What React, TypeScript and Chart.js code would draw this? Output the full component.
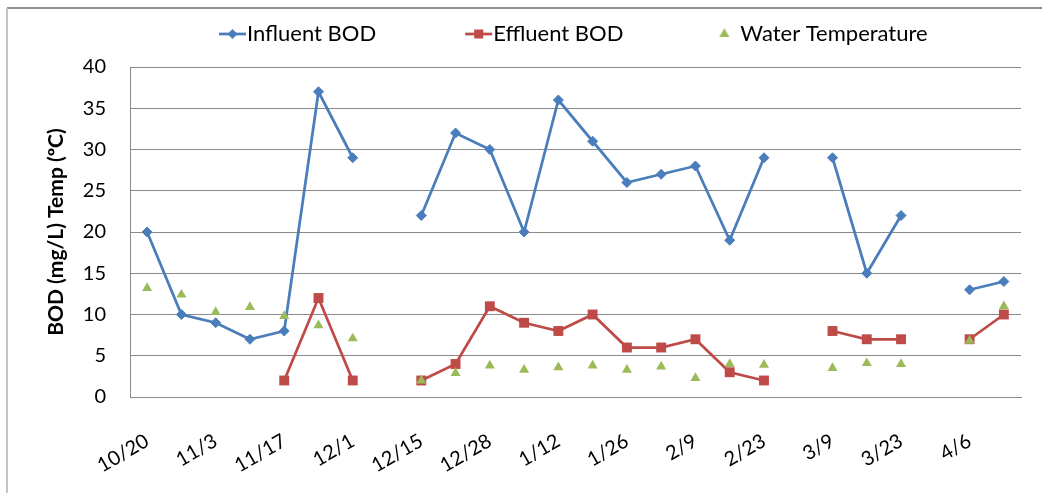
import React, { useEffect, useRef } from 'react';
import { Chart, registerables } from 'chart.js';

Chart.register(...registerables);

// ---- data ----
const categories = [
  '10/20', '10/27', '11/3', '11/10', '11/17', '11/24', '12/1', '12/8', '12/15', '12/22',
  '12/28', '1/5', '1/12', '1/19', '1/26', '2/2', '2/9', '2/16', '2/23', '3/2',
  '3/9', '3/16', '3/23', '3/30', '4/6', '4/13',
];
const influentBOD = [20, 10, 9, 7, 8, 37, 29, null, 22, 32, 30, 20, 36, 31, 26, 27, 28, 19, 29, null, 29, 15, 22, null, 13, 14];
const effluentBOD = [null, null, null, null, 2, 12, 2, null, 2, 4, 11, 9, 8, 10, 6, 6, 7, 3, 2, null, 8, 7, 7, null, 7, 10];
const waterTemperature = [13.2, 12.4, 10.3, 10.9, 9.8, 8.7, 7.1, null, 2.0, 2.9, 3.8, 3.3, 3.6, 3.8, 3.3, 3.7, 2.3, 4.0, 3.9, null, 3.5, 4.1, 4.0, null, 6.8, 11.0];
const seriesNames = ['Influent BOD', 'Effluent BOD', 'Water Temperature'];
const yAxisTitle = 'BOD (mg/L) Temp (ºC)';
const yMin = 0;
const yMax = 40;
const yStep = 5;

const BLUE = '#4A7EBB';
const RED = '#BE4B48';
const GREEN = '#9BBB59';
const GRID = '#8a8a8a';
const FONT = 'Lato';

function makeIcon(kind: 'diamond' | 'square' | 'triangle', color: string) {
  const c = document.createElement('canvas');
  c.width = 108;
  c.height = 16;
  const ctx = c.getContext('2d')!;
  const cy = 8;
  ctx.fillStyle = color;
  ctx.strokeStyle = color;
  if (kind === 'triangle') {
    const cx = 92;
    const r = 5.8;
    ctx.beginPath();
    ctx.moveTo(cx, cy - r);
    ctx.lineTo(cx + r * Math.sin(Math.PI / 3), cy + r / 2);
    ctx.lineTo(cx - r * Math.sin(Math.PI / 3), cy + r / 2);
    ctx.closePath();
    ctx.fill();
  } else {
    ctx.lineWidth = 2.75;
    ctx.beginPath();
    ctx.moveTo(80, cy);
    ctx.lineTo(107, cy);
    ctx.stroke();
    const mx = 93.5;
    ctx.beginPath();
    if (kind === 'diamond') {
      const r = 5;
      ctx.moveTo(mx - r, cy);
      ctx.lineTo(mx, cy - r);
      ctx.lineTo(mx + r, cy);
      ctx.lineTo(mx, cy + r);
      ctx.closePath();
    } else {
      ctx.rect(mx - 4.5, cy - 4.5, 9, 9);
    }
    ctx.fill();
  }
  return c;
}

export default function App() {
  const canvasRef = useRef<HTMLCanvasElement | null>(null);

  useEffect(() => {
    if (!canvasRef.current) return;
    Chart.defaults.font.family = FONT;
    const icons = [
      makeIcon('diamond', BLUE),
      makeIcon('square', RED),
      makeIcon('triangle', GREEN),
    ];
    const colors = [BLUE, RED, GREEN];

    const chart = new Chart(canvasRef.current, {
      type: 'line',
      data: {
        labels: categories,
        datasets: [
          {
            label: seriesNames[0],
            data: influentBOD,
            borderColor: BLUE,
            backgroundColor: BLUE,
            borderWidth: 2.75,
            pointStyle: 'rectRot',
            pointRadius: 5,
            pointBorderWidth: 1,
            pointBackgroundColor: BLUE,
            pointBorderColor: BLUE,
            spanGaps: false,
            tension: 0,
            order: 3,
          },
          {
            label: seriesNames[1],
            data: effluentBOD,
            borderColor: RED,
            backgroundColor: RED,
            borderWidth: 2.75,
            pointStyle: 'rect',
            pointRadius: 7,
            pointBorderWidth: 0,
            pointBackgroundColor: RED,
            pointBorderColor: RED,
            spanGaps: false,
            tension: 0,
            order: 2,
          },
          {
            label: seriesNames[2],
            data: waterTemperature,
            borderColor: GREEN,
            backgroundColor: GREEN,
            showLine: false,
            pointStyle: 'triangle',
            pointRadius: 5.8,
            pointBorderWidth: 0,
            pointBackgroundColor: GREEN,
            pointBorderColor: GREEN,
            order: 1,
          },
        ],
      },
      options: {
        responsive: false,
        animation: false,
        devicePixelRatio: 1,
        layout: { padding: { top: 3, right: 21, left: 0, bottom: 0 } },
        plugins: {
          tooltip: { enabled: false },
          legend: {
            position: 'top',
            align: 'start',
            fullSize: false,
            labels: {
              usePointStyle: true,
              pointStyleWidth: 86,
              padding: 20,
              color: '#000',
              font: { family: FONT, size: 22 },
              generateLabels: () =>
                seriesNames.map((name, i) => ({
                  text: name,
                  pointStyle: icons[i] as any,
                  fillStyle: colors[i],
                  strokeStyle: colors[i],
                  lineWidth: 0,
                  hidden: false,
                  datasetIndex: i,
                })),
            },
          },
          subtitle: {
            display: true,
            text: '',
            position: 'top',
            weight: 500,
            fullSize: false,
            padding: 0,
            font: { size: 10, lineHeight: 1.2 },
          } as any,
        },
        scales: {
          x: {
            type: 'category',
            offset: true,
            grid: { display: false, drawTicks: false },
            border: { display: true, color: GRID, width: 1 },
            ticks: {
              autoSkip: false,
              minRotation: 30,
              maxRotation: 30,
              padding: 32,
              color: '#000',
              font: { family: FONT, size: 20 },
              callback: (_v: any, index: number) => (index % 2 === 0 ? categories[index] : ''),
            },
            afterFit: (s: any) => {
              s.height = 98;
              s.paddingLeft = 0;
              s.paddingRight = 0;
            },
          },
          y: {
            min: yMin,
            max: yMax,
            grid: { color: GRID, lineWidth: 1, drawTicks: false },
            border: { display: true, color: GRID, width: 1 },
            ticks: {
              stepSize: yStep,
              padding: 24,
              color: '#000',
              font: { family: FONT, size: 20 },
            },
            title: {
              display: true,
              text: yAxisTitle,
              color: '#000',
              font: { family: FONT, size: 21, weight: 'bold' },
              padding: { top: 44, bottom: 0 },
            },
            afterFit: (s: any) => {
              s.width = 130;
            },
          },
        },
      },
    });
    return () => chart.destroy();
  }, []);

  return (
    <div style={{ position: 'absolute', left: 0, top: 0, width: 1042, height: 495, background: '#fff', overflow: 'hidden' }}>
      <div style={{ position: 'absolute', left: 7, top: 7, right: 0, height: 0, borderTop: '2px solid #8f8f8f' }} />
      <div style={{ position: 'absolute', left: 6, top: 8, width: 0, bottom: 2, borderLeft: '2px solid #c4c4c4' }} />
      <canvas ref={canvasRef} width={1042} height={495} style={{ position: 'absolute', left: 0, top: 0 }} />
    </div>
  );
}
